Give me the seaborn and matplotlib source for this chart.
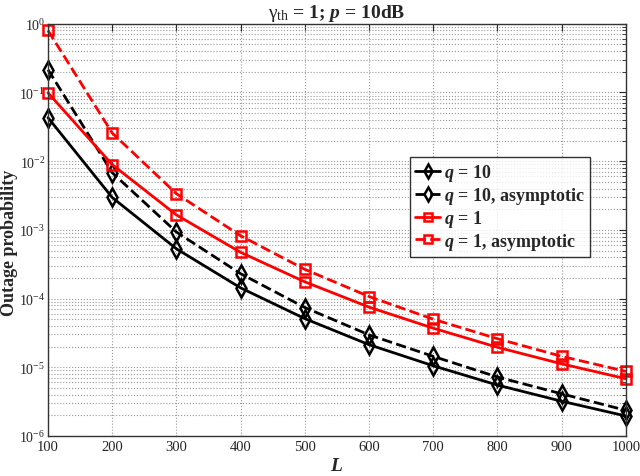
import numpy as np
import pandas as pd
import matplotlib
matplotlib.use("Agg")
import matplotlib.pyplot as plt
import seaborn as sns
from matplotlib.ticker import LogLocator, FixedLocator, NullFormatter

L = [100, 200, 300, 400, 500, 600, 700, 800, 900, 1000]
q10 = [0.043, 2.96e-3, 5.3e-4, 1.43e-4, 5.1e-5, 2.13e-5, 1.05e-5, 5.5e-6, 3.2e-6, 1.95e-6]
q10_asym = [0.215, 6.8e-3, 9.3e-4, 2.3e-4, 7.4e-5, 2.96e-5, 1.44e-5, 7.2e-6, 4.1e-6, 2.36e-6]
q1 = [0.099, 8.9e-3, 1.65e-3, 4.7e-4, 1.75e-4, 7.5e-5, 3.7e-5, 1.95e-5, 1.12e-5, 6.8e-6]
q1_asym = [0.80, 0.0257, 3.36e-3, 8.2e-4, 2.66e-4, 1.07e-4, 5.0e-5, 2.6e-5, 1.44e-5, 8.7e-6]

labels = [r'$q$ = 10', r'$q$ = 10, asymptotic', r'$q$ = 1', r'$q$ = 1, asymptotic']
series = [q10, q10_asym, q1, q1_asym]
colors = ['black', 'black', 'red', 'red']
styles = ['-', '--', '-', '--']
markers = ['d', 'd', 's', 's']

sns.set_style("white")
plt.rcParams['font.family'] = ['Liberation Serif', 'DejaVu Serif']
plt.rcParams['mathtext.fontset'] = 'custom'
plt.rcParams['mathtext.rm'] = 'Liberation Serif'
plt.rcParams['mathtext.it'] = 'Liberation Serif:italic:bold'
plt.rcParams['mathtext.bf'] = 'Liberation Serif:bold'

fig = plt.figure(figsize=(6.4, 4.77), dpi=100)
ax = fig.add_axes([0.075, 0.084, 0.903, 0.864])

for y, lab, c, ls, m in zip(series, labels, colors, styles, markers):
    df = pd.DataFrame({'L': L, 'P': y})
    sns.lineplot(data=df, x='L', y='P', ax=ax, color=c, linestyle=ls, linewidth=2,
                 marker=m, markersize=9 if m == 'd' else 7, markerfacecolor='none',
                 markeredgecolor=c, markeredgewidth=1.8, label=lab, clip_on=False)

ax.set_yscale('log')
ax.set_xlim(100, 1000)
ax.set_ylim(1e-6, 1)
ax.xaxis.set_major_locator(FixedLocator(L))
ax.set_xticklabels([str(v) for v in L])
ax.yaxis.set_major_locator(FixedLocator([10.0**k for k in range(-6, 1)]))
ax.set_yticklabels([r'$10^{%d}$' % k for k in range(-6, 1)])
ax.yaxis.set_minor_locator(LogLocator(base=10, subs=np.arange(2, 10), numticks=20))
ax.yaxis.set_minor_formatter(NullFormatter())
ax.grid(True, which='major', linestyle=':', color='#999999', linewidth=0.8)
ax.grid(True, which='minor', axis='y', linestyle=':', color='#999999', linewidth=0.8)
ax.tick_params(which='both', direction='in', top=True, right=True, labelsize=10.5, pad=3)
ax.tick_params(axis='y', labelsize=10, pad=2)
ax.tick_params(which='major', length=5)
ax.tick_params(which='minor', length=3)
for s in ax.spines.values():
    s.set_color('#333333')
    s.set_linewidth(1.0)

ax.set_xlabel(r'$L$', fontsize=14, labelpad=3)
ax.set_ylabel('Outage probability', fontsize=13, fontweight='bold')
ax.yaxis.set_label_coords(-0.052, 0.47)
ax.set_title(r'$\mathrm{\gamma}_{\mathrm{th}}$ = 1; $p$ = 10dB', fontsize=14, fontweight='bold', pad=5)

leg = ax.legend(loc='upper right', bbox_to_anchor=(0.938, 0.677),
                prop={'weight': 'bold', 'size': 13}, frameon=True, fancybox=False,
                handlelength=1.4, handletextpad=0.2, borderpad=0.3, labelspacing=0.1,
                borderaxespad=0, markerscale=0.75)
leg.get_frame().set_edgecolor('black')
leg.get_frame().set_linewidth(1.0)

fig.savefig('out.png', dpi=100)
